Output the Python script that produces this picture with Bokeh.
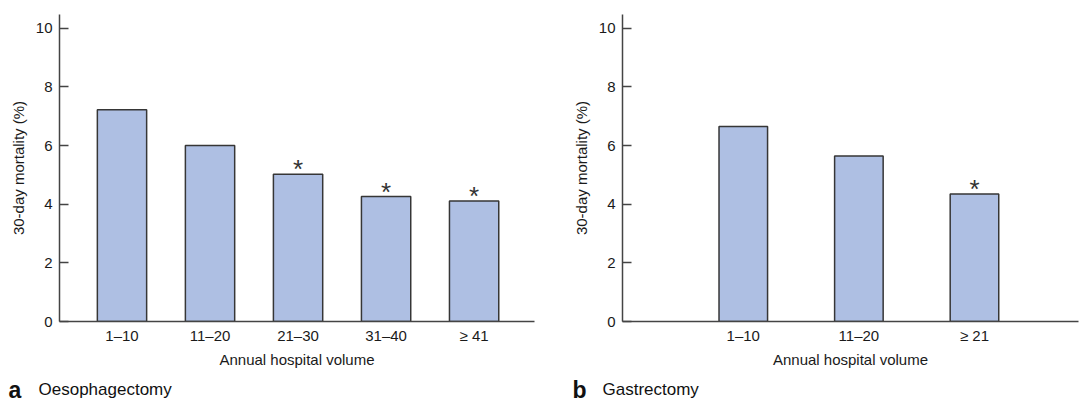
from bokeh.plotting import figure
from bokeh.layouts import row, column
from bokeh.models import ColumnDataSource, FixedTicker, Range1d
from bokeh.core.properties import value
from bokeh.embed import file_html
from bokeh.resources import INLINE

# ---- data ----
oeso_categories = ["1–10", "11–20", "21–30", "31–40", "≥ 41"]
oeso_mortality = [7.22, 6.0, 5.02, 4.26, 4.11]
oeso_significant = [False, False, True, True, True]

gastr_categories = ["1–10", "11–20", "≥ 21"]
gastr_mortality = [6.65, 5.64, 4.35]
gastr_significant = [False, False, True]

y_ticks = [0, 2, 4, 6, 8, 10]

FONT = "Liberation Sans"
TXT = "#1a1a1a"
AX = "#444444"
FILL = "#AEBFE3"
MAIN_H = 375
TITLE_H = 401 - MAIN_H


def panel(cats, vals, sig, width, bl, br, xs_, xe_, bw):
    p = figure(width=width, height=MAIN_H, output_backend="svg", toolbar_location=None,
               x_range=Range1d(xs_, xe_), y_range=Range1d(0, 10.47),
               min_border_left=bl, min_border_right=br,
               min_border_top=14, min_border_bottom=MAIN_H - 321)
    p.outline_line_color = None
    p.grid.visible = False

    xs = list(range(len(cats)))
    src = ColumnDataSource(dict(x=xs, top=vals))
    p.vbar(x="x", top="top", bottom=0, width=bw, source=src,
           fill_color=FILL, line_color="#363636", line_width=1.5)

    sx = [x for x, s in zip(xs, sig) if s]
    sy = [v for v, s in zip(vals, sig) if s]
    ssrc = ColumnDataSource(dict(x=sx, y=sy, t=["*"] * len(sx)))
    p.text(x="x", y="y", text="t", source=ssrc, text_align="center",
           text_baseline="alphabetic", y_offset=-5, text_font_size="26px",
           text_font=value(FONT), text_color="#333333")

    xa = p.xaxis[0]
    xa.ticker = FixedTicker(ticks=xs)
    xa.major_label_overrides = {i: c for i, c in enumerate(cats)}
    xa.major_tick_in = 0
    xa.major_tick_out = 0
    xa.minor_tick_line_color = None
    xa.major_label_standoff = 5
    xa.axis_label = "Annual hospital volume"
    xa.axis_label_standoff = 4

    ya = p.yaxis[0]
    ya.ticker = FixedTicker(ticks=y_ticks)
    ya.major_tick_in = 9
    ya.major_tick_out = 0
    ya.minor_tick_line_color = None
    ya.major_label_standoff = 7
    ya.axis_label = "30-day mortality (%)"
    ya.axis_label_standoff = 6

    for a in (xa, ya):
        a.axis_line_color = AX
        a.axis_line_width = 1.5
        a.major_tick_line_color = AX
        a.major_tick_line_width = 1.5
        a.major_label_text_font = FONT
        a.major_label_text_font_size = "15px"
        a.major_label_text_color = TXT
        a.axis_label_text_font = FONT
        a.axis_label_text_font_size = "15px"
        a.axis_label_text_font_style = "normal"
        a.axis_label_text_color = TXT
    return p


def caption(width, letter, name, lx, nx):
    t = figure(width=width, height=TITLE_H, output_backend="svg", toolbar_location=None,
               x_range=Range1d(0, width), y_range=Range1d(0, TITLE_H),
               x_axis_type=None, y_axis_type=None, min_border=0)
    t.outline_line_color = None
    t.grid.visible = False
    base = 12
    t.text(x=[lx], y=[base], text=[letter], text_font=value(FONT),
           text_font_size="23px", text_font_style="bold", text_color="#111111",
           text_baseline="alphabetic")
    t.text(x=[nx], y=[base], text=[name], text_font=value(FONT),
           text_font_size="17px", text_color="#111111", text_baseline="alphabetic")
    return t


p1 = panel(oeso_categories, oeso_mortality, oeso_significant, 540, 59, 6,
           -0.71, 4.686, 0.56)
p2 = panel(gastr_categories, gastr_mortality, gastr_significant, 539, 82, 1,
           -1.045, 2.9, 0.42)
c1 = caption(540, "a", "Oesophagectomy", 8, 38)
c2 = caption(539, "b", "Gastrectomy", 32, 62)

layout = column(row(p1, p2), row(c1, c2))
open("out.html", "w").write(file_html(layout, INLINE))
